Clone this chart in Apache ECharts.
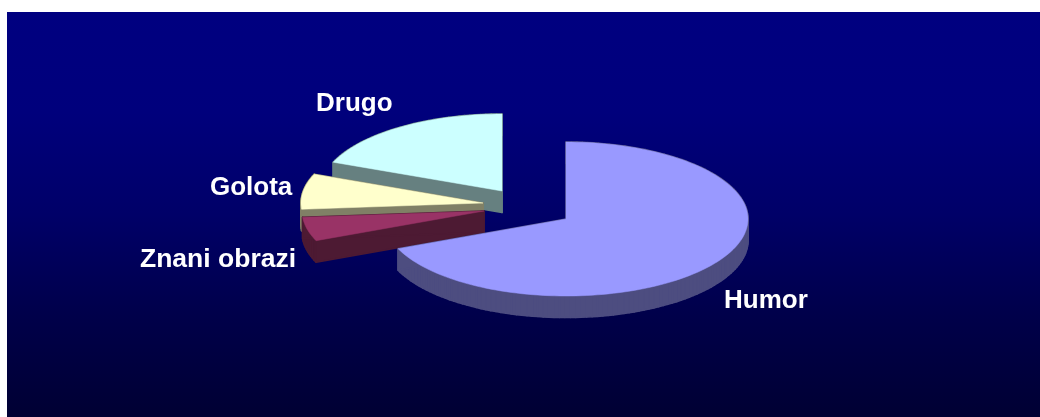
<!DOCTYPE html>
<html><head><meta charset="utf-8">
<style>html,body{margin:0;padding:0;background:#fff}#c{width:1040px;height:417px}</style>
<script src="https://cdn.jsdelivr.net/npm/echarts@6/dist/echarts.min.js"></script>
</head><body><div id="c"></div>
<script>
const categories = ['Humor', 'Znani obrazi', 'Golota', 'Drugo'];
const values = [68.7, 5, 7.4, 18.9];
const topColors = ['#9999FF', '#993366', '#FFFFCC', '#CCFFFF'];
const sideColors = ['#4D4D80', '#4D1A33', '#808066', '#668080'];
// layout of the tilted pie
const pie = {cx: 566, cy: 219, rx: 182, ry: 77, depth: 21.5};
const explode = [[0, 0], [-82, -8], [-83, -16], [-64, -28]];
const labelAt = [[724, 301], [140, 260], [210, 188], [316, 104]];
const labelSize = [26, 26.5, 26, 26];
const total = values.reduce((a, b) => a + b, 0);
const starts = [];
values.reduce((a, v, i) => (starts[i] = a, a + v), 0);

function renderSlice(params, api) {
  const i = params.dataIndex;
  const v = api.value(0);
  const a0 = starts[i] / total * 2 * Math.PI, a1 = (starts[i] + v) / total * 2 * Math.PI;
  const ox = pie.cx + explode[i][0], oy = pie.cy + explode[i][1];
  const pts = [[ox, oy]];
  const n = Math.max(4, Math.ceil((a1 - a0) / 0.03));
  for (let k = 0; k <= n; k++) {
    const t = a0 + (a1 - a0) * k / n;
    pts.push([ox + pie.rx * Math.sin(t), oy - pie.ry * Math.cos(t)]);
  }
  const children = [];
  pts.forEach((p, k) => {
    const q = pts[(k + 1) % pts.length];
    children.push({type: 'polygon', shape: {points: [p, q, [q[0], q[1] + pie.depth], [p[0], p[1] + pie.depth]]},
      style: {fill: sideColors[i], stroke: sideColors[i], lineWidth: 1.6, lineJoin: 'round'}});
  });
  children.push({type: 'polygon', shape: {points: pts}, style: {fill: topColors[i], stroke: topColors[i], lineWidth: 0.5}});
  children.push({type: 'text', x: labelAt[i][0], y: labelAt[i][1], z2: 50,
    style: {text: categories[i], fill: '#fff', font: 'bold ' + labelSize[i] + 'px "Liberation Sans", Arial, sans-serif', textAlign: 'left', textVerticalAlign: 'middle'}});
  return {type: 'group', children};
}
// Back slices first so the nearer ones overlap them
const order = [3, 2, 1, 0];
const chart = echarts.init(document.getElementById('c'), null, {renderer: 'canvas'});
chart.setOption({
  animation: false,
  backgroundColor: '#fff',
  graphic: [{type: 'rect', z: -10, shape: {x: 7, y: 12, width: 1033, height: 405},
    style: {fill: new echarts.graphic.LinearGradient(0, 0, 0, 1, [
      {offset: 0, color: '#000080'}, {offset: 0.25, color: '#00007C'}, {offset: 0.5, color: '#000068'},
      {offset: 0.75, color: '#00004A'}, {offset: 1, color: '#000033'}])}}],
  series: order.map(i => ({
    type: 'custom', coordinateSystem: 'none', name: categories[i], z: 10 + (3 - i), silent: true,
    renderItem: (params, api) => renderSlice({dataIndex: i}, api),
    data: [[values[i]]]
  }))
});
</script></body></html>
